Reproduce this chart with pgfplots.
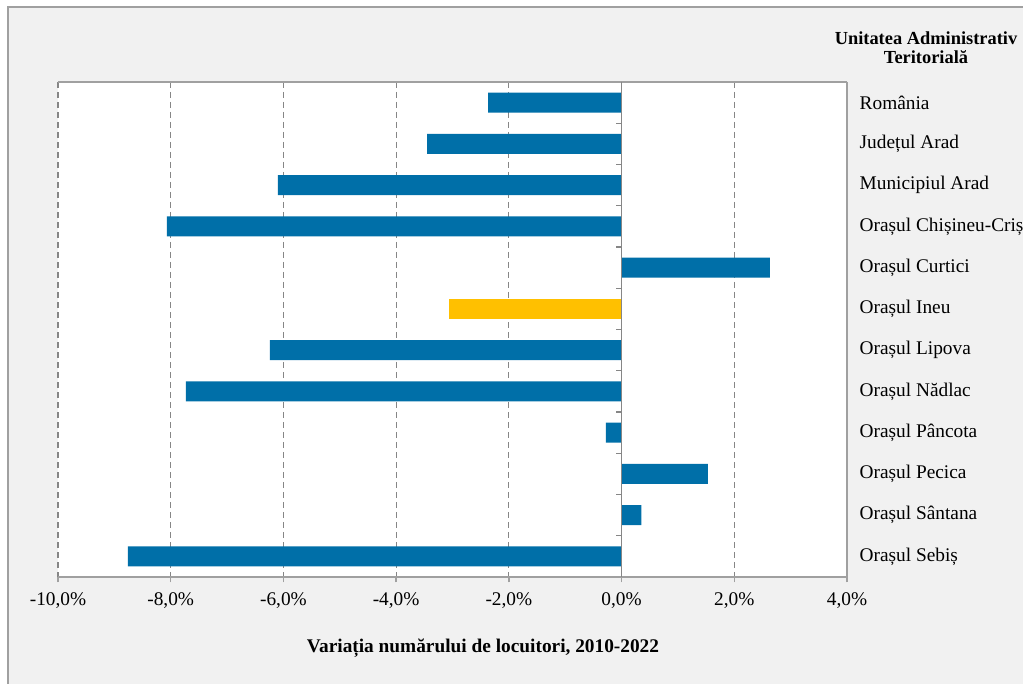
\documentclass[border=0pt]{standalone}
\usepackage{fontspec}
\setmainfont{Liberation Serif}
\usepackage{pgfplots}
\pgfplotsset{compat=1.18}
\definecolor{barblue}{RGB}{0,111,168}
\definecolor{baryellow}{RGB}{255,192,0}
\definecolor{bggray}{RGB}{241,241,241}
\definecolor{framegray}{RGB}{160,160,160}
\definecolor{gridgray}{RGB}{134,134,134}
\begin{document}
\begin{tikzpicture}[x=1pt,y=1pt]
\useasboundingbox (0,0) rectangle (767.25,513);
\clip (0,0) rectangle (767.25,513);
\fill[white] (0,0) rectangle (767.25,513);
\filldraw[fill=bggray, draw=framegray, line width=1.1pt] (6,507.75) rectangle (800,-20);
\begin{axis}[
  at={(43.5pt,80.25pt)}, anchor=south west,
  scale only axis, width=591.75pt, height=371.25pt,
  axis background/.style={fill=white},
  xmin=-10, xmax=4, ymin=-0.5, ymax=11.5, y dir=reverse,
  xbar, bar width=15pt,
  xtick={-10,-8,-6,-4,-2,0,2,4},
  /pgf/number format/assume math mode=true,
  xticklabel={\pgfmathprintnumber[fixed,fixed zerofill,precision=1,use comma]{\tick}\%},
  ytick={0,...,11},
  yticklabels={România, Județul Arad, Municipiul Arad, Orașul Chișineu-Criș, Orașul Curtici, Orașul Ineu, Orașul Lipova, Orașul Nădlac, Orașul Pâncota, Orașul Pecica, Orașul Sântana, Orașul Sebiș},
  yticklabel pos=right,
  y tick label style={anchor=west, xshift=2pt},
  every tick label/.append style={font=\fontsize{14.5}{17}\selectfont, text=black},
  x tick label style={yshift=-4pt},
  tick align=outside,
  x tick style={framegray, line width=1pt},
  xtick pos=bottom,
  major tick length=4pt,
  y tick style={draw=none},
  xmajorgrids,
  major grid style={gridgray, dash pattern=on 4.5pt off 3pt, line width=0.9pt},
  separate axis lines,
  x axis line style={framegray, line width=1.1pt},
  y axis line style={draw=none},
  clip=false,
]
\addplot[fill=barblue, draw=none, bar shift=0pt] coordinates {
  (-2.37,0) (-3.45,1) (-6.10,2) (-8.07,3) (2.63,4)
  (-6.24,6) (-7.73,7) (-0.28,8) (1.53,9) (0.35,10) (-8.76,11)
};
\addplot[fill=baryellow, draw=none, bar shift=0pt] coordinates {(-3.06,5)};
\draw[gridgray, line width=1.1pt] (axis cs:0,-0.5) -- (axis cs:0,11.5);
\pgfplotsinvokeforeach{0.5,1.5,...,10.5}{
  \draw[gridgray, line width=1pt] (axis cs:0,#1) -- ++(-4.5pt,0pt);
}
\draw[framegray, line width=1.1pt] (rel axis cs:1,0) -- (rel axis cs:1,1);
\end{axis}
\node[font=\bfseries\fontsize{14.5}{15}\selectfont] at (362.25,27) {Variația numărului de locuitori, 2010-2022};
\node[font=\bfseries\fontsize{13.8}{14.25}\selectfont, align=center] at (694.5,477.4) {Unitatea Administrativ\\Teritorială};
\end{tikzpicture}
\end{document}
